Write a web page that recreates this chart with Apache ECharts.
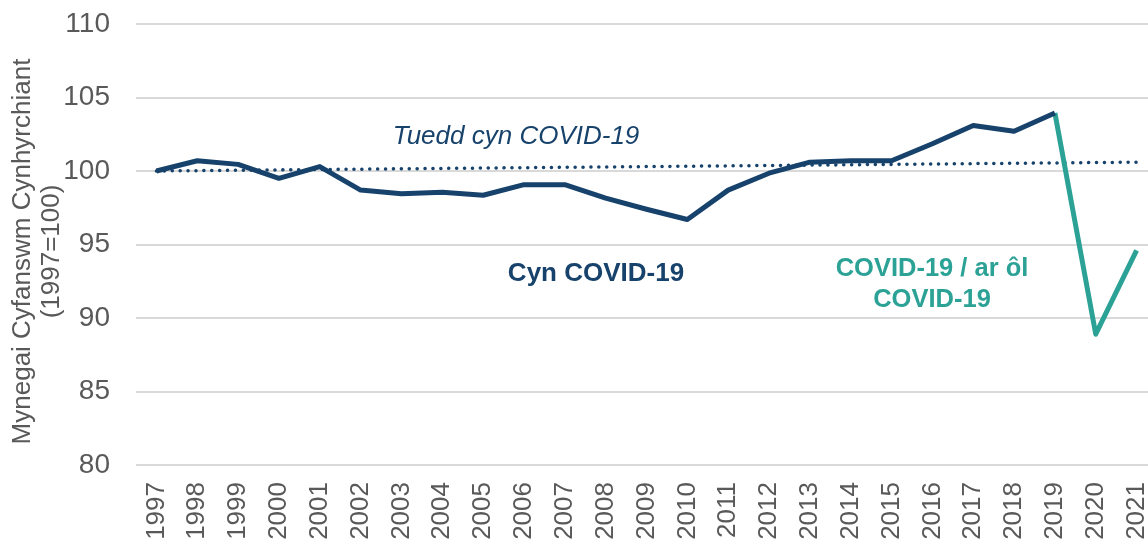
<!DOCTYPE html>
<html>
<head>
<meta charset="utf-8">
<script src="https://cdn.jsdelivr.net/npm/echarts@6/dist/echarts.min.js"></script>
<style>
  html, body { margin: 0; padding: 0; background: #fff; overflow: hidden; }
  #chart { width: 1148px; height: 548px; }
</style>
</head>
<body>
<div id="chart"></div>
<script>
  // blynyddoedd / years
  const years = ['1997', '1998', '1999', '2000', '2001', '2002', '2003', '2004', '2005', '2006',
    '2007', '2008', '2009', '2010', '2011', '2012', '2013', '2014', '2015', '2016',
    '2017', '2018', '2019', '2020', '2021'];
  // index values, 1997 = 100
  const preCovid = [100.0, 100.7, 100.45, 99.5, 100.3, 98.7, 98.45, 98.55, 98.35, 99.07,
    99.07, 98.15, 97.4, 96.7, 98.7, 99.85, 100.6, 100.7, 100.7, 101.85,
    103.1, 102.7, 103.95];
  const covid = [103.95, 88.9, 94.6]; // 2019-2021
  const trendEnds = [100.0, 100.6];   // 1997 -> 2021
  const yTicks = [80, 85, 90, 95, 100, 105, 110];

  const navy = '#17426b';
  const teal = '#2ba295';
  const font = '"Liberation Sans", Arial, sans-serif';

  const navyData = years.map((y, i) => (i < preCovid.length ? preCovid[i] : null));
  const tealData = years.map((y, i) => {
    const k = i - (preCovid.length - 1);
    return k >= 0 ? covid[k] : null;
  });
  const trendData = [[years[0], trendEnds[0]], [years[years.length - 1], trendEnds[1]]];

  const chart = echarts.init(document.getElementById('chart'));
  const option = {
    animation: false,
    grid: { left: 136, right: -9, top: 24, bottom: 83, containLabel: false, outerBoundsMode: 'none' },
    xAxis: {
      type: 'category',
      data: years,
      boundaryGap: true,
      axisLine: { show: false },
      axisTick: { show: false },
      axisLabel: {
        rotate: 90,
        interval: 0,
        margin: 17,
        color: '#595959',
        fontSize: 26,
        fontFamily: font
      }
    },
    yAxis: {
      type: 'value',
      min: yTicks[0],
      max: yTicks[yTicks.length - 1],
      interval: 5,
      name: 'Mynegai Cyfanswm Cynhyrchiant\n(1997=100)',
      nameLocation: 'middle',
      nameGap: 70,
      nameRotate: 90,
      nameMoveOverlap: false,
      nameTextStyle: { color: '#595959', fontSize: 26, fontFamily: font, lineHeight: 29, padding: [0, 14, 0, 0] },
      axisLine: { show: false },
      axisTick: { show: false },
      axisLabel: { margin: 26, color: '#595959', fontSize: 28, fontFamily: font },
      splitLine: { lineStyle: { color: '#d9d9d9', width: 2 } }
    },
    series: [
      {
        name: 'Tuedd',
        type: 'line',
        data: trendData,
        showSymbol: false,
        z: 1,
        lineStyle: { color: navy, width: 3.5, type: [0.1, 7.8], cap: 'round' }
      },
      {
        name: 'Cyn COVID-19',
        type: 'line',
        data: navyData,
        showSymbol: false,
        z: 3,
        lineStyle: { color: navy, width: 5, join: 'round' }
      },
      {
        name: 'COVID-19',
        type: 'line',
        data: tealData,
        showSymbol: false,
        z: 2,
        lineStyle: { color: teal, width: 5, join: 'round' }
      }
    ],
    graphic: [
      {
        type: 'text',
        style: {
          text: 'Tuedd cyn COVID-19', x: 516, y: 137, align: 'center', verticalAlign: 'middle',
          fill: navy, font: 'italic 26px ' + font
        }
      },
      {
        type: 'text',
        style: {
          text: 'Cyn COVID-19', x: 596, y: 274, align: 'center', verticalAlign: 'middle',
          fill: navy, font: 'bold 26px ' + font
        }
      },
      {
        type: 'text',
        style: {
          text: 'COVID-19 / ar ôl\nCOVID-19', x: 932, y: 284, align: 'center', verticalAlign: 'middle',
          fill: teal, font: 'bold 25.5px ' + font, lineHeight: 31
        }
      }
    ]
  };
  chart.setOption(option);
</script>
</body>
</html>
